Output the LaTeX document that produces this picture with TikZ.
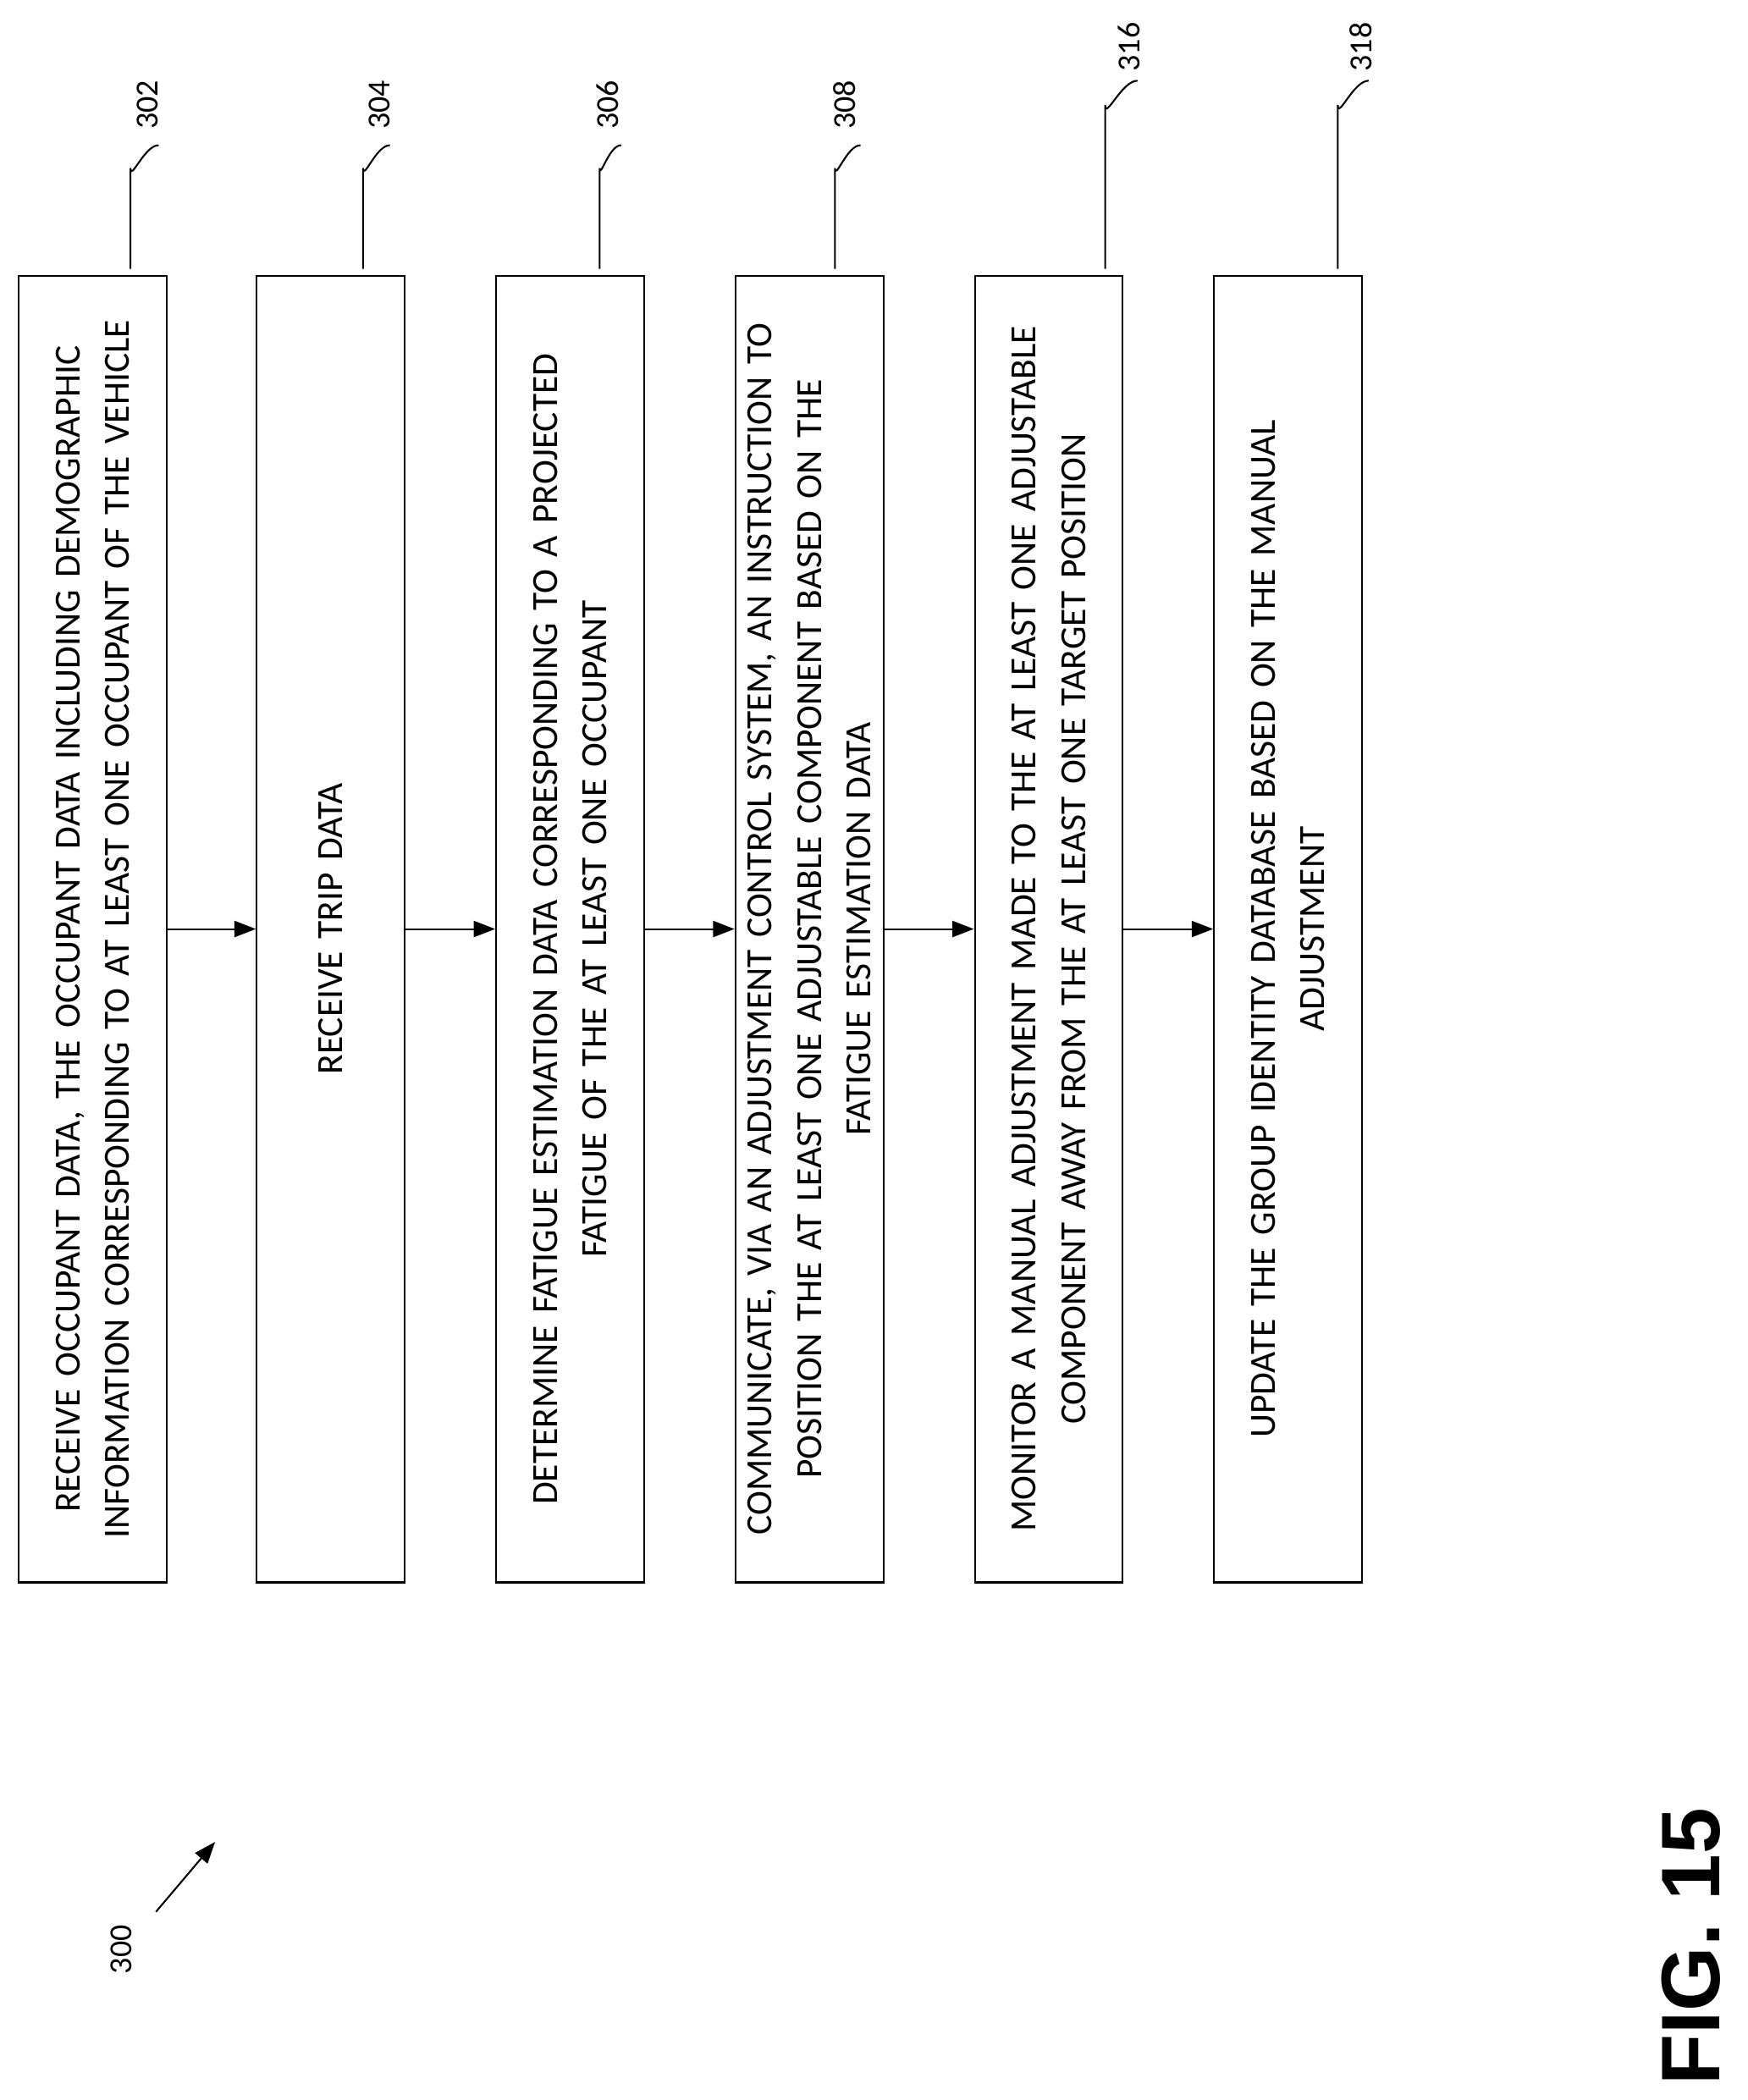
\documentclass[tikz,border=0pt]{standalone}
\usepackage{fontspec}
\setmainfont{Carlito}
\newfontfamily\figfont{Liberation Sans}
\usetikzlibrary{arrows.meta}
\begin{document}
\begin{tikzpicture}[x=1bp,y=-1bp,
 box/.style={draw,line width=1.3bp,rotate=90,minimum width=972bp,minimum height=110bp,text width=950bp,align=center,font=\fontsize{27.5}{37}\selectfont,inner sep=0pt},
 lab/.style={rotate=90,font=\fontsize{24}{28}\selectfont},
 arr/.style={line width=1.3bp,-{Triangle[length=16bp,width=12bp]}},
 lead/.style={line width=1.3bp}]
\useasboundingbox (0,0) rectangle (1300,1562);
\node[box] (b1) at (69,691) {RECEIVE OCCUPANT DATA, THE OCCUPANT DATA INCLUDING DEMOGRAPHIC\\INFORMATION CORRESPONDING TO AT LEAST ONE OCCUPANT OF THE VEHICLE};
\node[box] (b2) at (246,691) {RECEIVE TRIP DATA};
\node[box] (b3) at (424,691) {DETERMINE FATIGUE ESTIMATION DATA CORRESPONDING TO A PROJECTED\\FATIGUE OF THE AT LEAST ONE OCCUPANT};
\node[box] (b4) at (602,691) {COMMUNICATE, VIA AN ADJUSTMENT CONTROL SYSTEM, AN INSTRUCTION TO\\POSITION THE AT LEAST ONE ADJUSTABLE COMPONENT BASED ON THE\\FATIGUE ESTIMATION DATA};
\node[box] (b5) at (780,691) {MONITOR A MANUAL ADJUSTMENT MADE TO THE AT LEAST ONE ADJUSTABLE\\COMPONENT AWAY FROM THE AT LEAST ONE TARGET POSITION};
\node[box] (b6) at (958,691) {UPDATE THE GROUP IDENTITY DATABASE BASED ON THE MANUAL\\ADJUSTMENT};
\draw[arr] (b1) -- (b2);
\draw[arr] (b2) -- (b3);
\draw[arr] (b3) -- (b4);
\draw[arr] (b4) -- (b5);
\draw[arr] (b5) -- (b6);
\node[lab] (l302) at (110,78) {302};
\node[lab] (l304) at (282,78) {304};
\node[lab] (l306) at (452,78) {306};
\node[lab] (l308) at (628,78) {308};
\node[lab] (l316) at (840,35) {316};
\node[lab] (l318) at (1012,35) {318};
\coordinate (c1) at (97,200);\coordinate (c2) at (270,200);\coordinate (c3) at (446,200);
\coordinate (c4) at (621,200);\coordinate (c5) at (822,200);\coordinate (c6) at (995,200);
\draw[lead] (c1) -- (97,125) to[out=-90,in=180] (118,108);
\draw[lead] (c2) -- (270,125) to[out=-90,in=180] (290,108);
\draw[lead] (c3) -- (446,125) to[out=-90,in=180] (462,108);
\draw[lead] (c4) -- (621,125) to[out=-90,in=180] (640,108);
\draw[lead] (c5) -- (822,78) to[out=-90,in=180] (846,60);
\draw[lead] (c6) -- (995,78) to[out=-90,in=180] (1018,60);
\node[lab] (l300) at (90,1450) {300};
\coordinate (a0) at (116,1422);\coordinate (a1) at (160,1370);
\draw[arr] (a0) -- (a1);
\node[rotate=90,font=\figfont\bfseries\fontsize{62}{70}\selectfont] (fig) at (1258,1448) {FIG. 15};
\end{tikzpicture}
\end{document}
